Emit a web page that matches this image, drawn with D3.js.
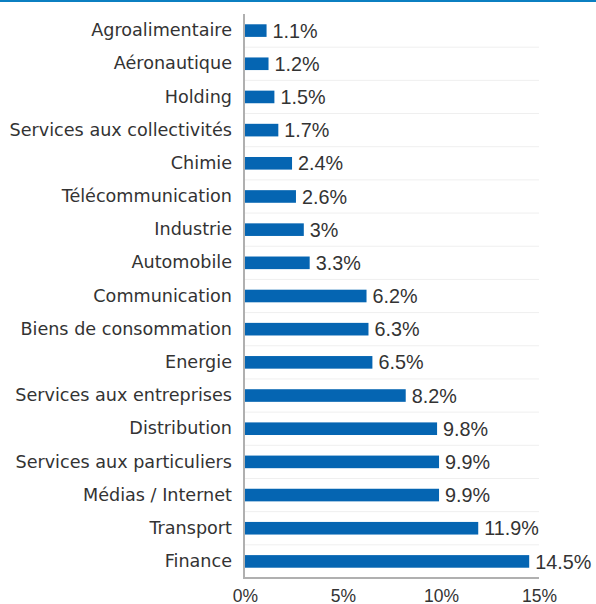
<!DOCTYPE html>
<html>
<head>
<meta charset="utf-8">
<script src="https://cdn.jsdelivr.net/npm/d3@7"></script>
<style>
  html, body { margin: 0; padding: 0; background: #fff; }
  svg { display: block; }
</style>
</head>
<body>
<svg id="chart" width="596" height="604"></svg>
<script>
// Sector breakdown (share of total, in %)
const sectors = [
  "Agroalimentaire", "Aéronautique", "Holding", "Services aux collectivités",
  "Chimie", "Télécommunication", "Industrie", "Automobile", "Communication",
  "Biens de consommation", "Energie", "Services aux entreprises", "Distribution",
  "Services aux particuliers", "Médias / Internet", "Transport", "Finance"
];
const shares = [1.1, 1.2, 1.5, 1.7, 2.4, 2.6, 3, 3.3, 6.2, 6.3, 6.5, 8.2, 9.8, 9.9, 9.9, 11.9, 14.5];
const tickValues = [0, 5, 10, 15];
const tickLabels = ["0%", "5%", "10%", "15%"];

const svg = d3.select("#chart");
const W = 596;
const m = { top: 14, left: 245, right: 57, bottom: 26 };
const plotBottom = 578;

// Thin accent rule along the top edge
svg.append("rect").attr("x", 0).attr("y", 0).attr("width", W).attr("height", 2).attr("fill", "#0b7fc1");

const x = d3.scaleLinear().domain([0, 15]).range([m.left, W - m.right]);
const y = d3.scaleBand().domain(sectors).range([m.top, plotBottom]).paddingInner(0.62).paddingOuter(0.31);
const step = y.step();

// Light separators between rows
const bounds = sectors.slice(1).map(s => y(s) - y.paddingInner() * step / 2);
svg.append("g").selectAll("line").data(bounds).join("line")
  .attr("x1", x(0)).attr("x2", x(15))
  .attr("y1", d => d).attr("y2", d => d)
  .attr("stroke", "#efefef").attr("stroke-width", 1);

// Bars
svg.append("g").selectAll("rect").data(sectors).join("rect")
  .attr("x", x(0))
  .attr("y", d => y(d))
  .attr("width", (d, i) => x(shares[i]) - x(0))
  .attr("height", y.bandwidth())
  .attr("fill", "#0565b2");

// Value labels
svg.append("g").selectAll("text").data(sectors).join("text")
  .attr("x", (d, i) => x(shares[i]) + 6)
  .attr("y", d => y(d) + y.bandwidth() / 2)
  .attr("dy", "0.36em")
  .attr("font-family", "'Liberation Sans', Arial, sans-serif")
  .attr("font-size", 19.8)
  .attr("fill", "#333")
  .text((d, i) => shares[i] + "%");

// Category axis
const yAxis = svg.append("g")
  .attr("transform", `translate(${x(0) - 1},0)`)
  .call(d3.axisLeft(y).tickSize(0).tickPadding(12));
yAxis.select(".domain").remove();
yAxis.selectAll("text")
  .attr("font-family", "'DejaVu Sans', sans-serif")
  .attr("font-size", 17.6)
  .attr("fill", "#333");

// Axis lines
svg.append("line").attr("x1", x(0) - 1).attr("x2", x(0) - 1).attr("y1", m.top).attr("y2", plotBottom + 1)
  .attr("stroke", "#b0b0b0").attr("stroke-width", 2);
svg.append("line").attr("x1", x(0) - 2).attr("x2", x(15)).attr("y1", plotBottom).attr("y2", plotBottom)
  .attr("stroke", "#b0b0b0").attr("stroke-width", 2);

// Value axis
const xAxis = svg.append("g")
  .attr("transform", `translate(0,${plotBottom})`)
  .call(d3.axisBottom(x).tickValues(tickValues).tickSize(0).tickPadding(12)
    .tickFormat((d, i) => tickLabels[i]));
xAxis.select(".domain").remove();
xAxis.selectAll("text")
  .attr("font-family", "'Liberation Sans', Arial, sans-serif")
  .attr("font-size", 17.5)
  .attr("fill", "#333");
</script>
</body>
</html>
